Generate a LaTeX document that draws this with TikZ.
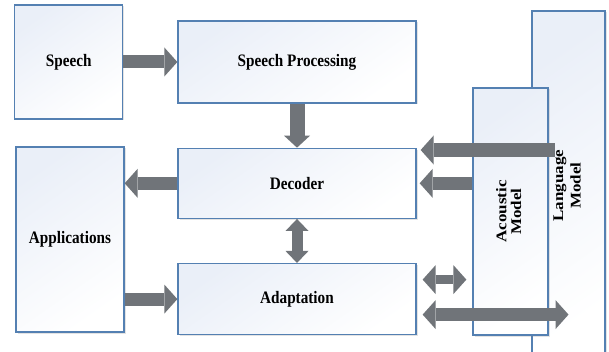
\documentclass[tikz,border=0pt]{standalone}
\usepackage{fontspec}
\setmainfont{Liberation Serif}
\usetikzlibrary{arrows.meta,shadows,calc,positioning}
\definecolor{boxblue}{RGB}{84,128,178}
\definecolor{boxfill}{RGB}{234,239,248}
\definecolor{arrowgray}{RGB}{112,116,121}
\tikzstyle{blockbox} = [draw=boxblue, line width=1.3pt, rectangle, top color=boxfill, bottom color=white, shading angle=35, drop shadow={shadow xshift=1.5pt, shadow yshift=-1.5pt, opacity=0.22}, font=\bfseries\fontsize{17.5}{20}\selectfont]
\tikzstyle{sidebox} = [blockbox, rotate=90, font=\bfseries\fontsize{17}{19}\selectfont]
\tikzstyle{fatarrow} = [draw=arrowgray, line width=13pt, >={Triangle[length=13pt,width=29pt,line width=0pt]}]
\tikzset{smallhead/.style 2 args={>={Triangle[length=#1,width=#2,line width=0pt]}}}
\newcommand{\boxtxt}[1]{\scalebox{0.87}[1]{#1}}
\newcommand{\sidetxt}[3]{\scalebox{1}[0.87]{\begin{tabular}{@{}c@{}}#1\\[#3]#2\end{tabular}}}

\begin{document}
\begin{tikzpicture}[x=1pt,y=1pt]
\clip (0,0) rectangle (609,351);
\fill [white] (0,0) rectangle (609,351);
% stores on the right
\node [sidebox, minimum width=349pt, minimum height=73pt] (lang) at (568.5,165.5) {\sidetxt{Language}{Model}{1pt}};
\node [sidebox, minimum width=247pt, minimum height=75pt] (acoustic) at (510.5,139.5) {\sidetxt{Acoustic}{Model}{-2pt}};
% main chain
\node [blockbox, minimum width=238pt, minimum height=82pt] (proc) at (297,289) {\boxtxt{Speech Processing}};
\node [blockbox, minimum width=108pt, minimum height=114pt, left=54pt of proc] (speech) {\boxtxt{Speech}};
\node [blockbox, minimum width=238pt, minimum height=70pt, below=44pt of proc] (dec) {\boxtxt{Decoder}};
\node [blockbox, minimum width=238pt, minimum height=71pt, below=44pt of dec] (adapt) {\boxtxt{Adaptation}};
\node [blockbox, minimum width=108pt, minimum height=185pt] (apps) at (70,111.5) {\boxtxt{Applications}};

\draw [fatarrow, ->] (speech.east) -- (proc.west |- speech.east);
\draw [fatarrow, ->, line width=15pt, smallhead={12pt}{26pt}] (proc.south) -- (dec.north);
\draw [fatarrow, ->] (dec.west) -- (apps.east |- dec.west);
\draw [fatarrow, <->, line width=11pt, smallhead={12pt}{23pt}] (dec.south) -- (adapt.north);
\draw [fatarrow, ->] (apps.east |- adapt.west) -- (adapt.west);
% from the models
\coordinate (lmout) at ($(lang.center)+(-14,35.5)$);
\draw [fatarrow, ->, line width=14pt] (lmout) -- ($(dec.east |- lmout)+(4,0)$);
\draw [fatarrow, ->] (acoustic.north |- dec.east) -- ($(dec.east)+(3,0)$);
\coordinate (adam) at ($(adapt.east)+(6,19.5)$);
\draw [fatarrow, <->, line width=9pt] (adam) -- ($(acoustic.north |- adam)+(-6,0)$);
\coordinate (adlm) at ($(adapt.east)+(6,-15.5)$);
\draw [fatarrow, <->] (adlm) -- (lang.center |- adlm);
\end{tikzpicture}
\end{document}
